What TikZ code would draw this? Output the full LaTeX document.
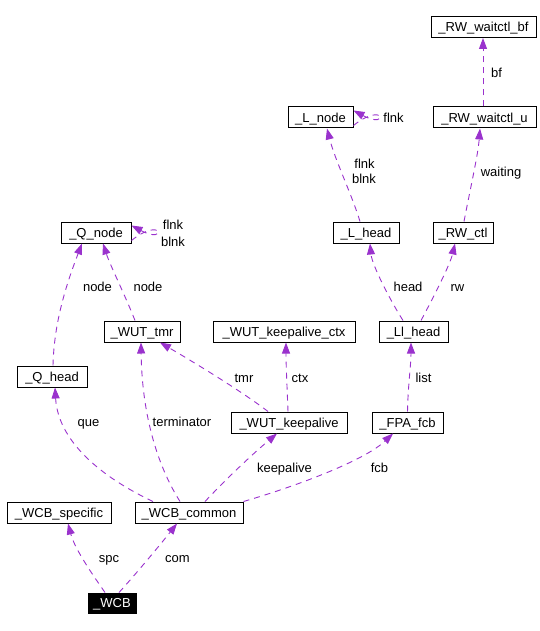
\documentclass[tikz,border=0pt]{standalone}
\usepackage{fontspec}
\setmainfont{Liberation Sans}
\usetikzlibrary{arrows.meta}
\definecolor{edgecol}{HTML}{9A32CD}
\tikzset{
  box/.style={draw=black, line width=1pt, rectangle, minimum height=21pt, inner sep=0pt,
    text height=9.3pt, text depth=0pt, font=\fontsize{13}{15}\selectfont},
  rootbox/.style={box, fill=black, text=white, minimum height=20pt},
  lbl/.style={inner sep=0pt, text height=9.3pt, text depth=0pt, font=\fontsize{13}{15}\selectfont},
  rel/.style={draw=edgecol, line width=0.9pt, dash pattern=on 6pt off 5pt,
    -{Triangle[length=11pt,width=8pt,fill=edgecol]}}
}
\begin{document}
\begin{tikzpicture}[x=1pt,y=-1pt]
\useasboundingbox (0,0) rectangle (540,631);
% nodes
\node[box, minimum width=105pt] (bf)     at (483.5,27)   {\_RW\_waitctl\_bf};
\node[box, minimum width=65pt]  (Lnode)  at (320.5,117.5){\_L\_node};
\node[box, minimum width=103pt] (RWu)    at (484.5,117.5){\_RW\_waitctl\_u};
\node[box, minimum width=66pt]  (Lhead)  at (366,232.5)  {\_L\_head};
\node[box, minimum width=60pt]  (RWctl)  at (463,232.5)  {\_RW\_ctl};
\node[box, minimum width=70pt]  (Qnode)  at (96,232.5)   {\_Q\_node};
\node[box, minimum width=76pt]  (tmr)    at (142,331.5)  {\_WUT\_tmr};
\node[box, minimum width=142pt] (kctx)   at (284,331.5)  {\_WUT\_keepalive\_ctx};
\node[box, minimum width=69pt]  (Llhead) at (413.5,331.5){\_Ll\_head};
\node[box, minimum width=70pt]  (Qhead)  at (52,376.5)   {\_Q\_head};
\node[box, minimum width=116pt] (keep)   at (289,422.5)  {\_WUT\_keepalive};
\node[box, minimum width=71pt]  (fcb)    at (407.5,422.5){\_FPA\_fcb};
\node[box, minimum width=104pt] (spec)   at (59,512.5)   {\_WCB\_specific};
\node[box, minimum width=108pt] (common) at (189,512.5)  {\_WCB\_common};
\node[rootbox, minimum width=48pt] (wcb) at (112,603)    {\_WCB};
% edges
\draw[rel] ([xshift=-7pt]wcb.north) .. controls (95,578) and (75,550) .. ([xshift=9pt]spec.south);
\draw[rel] ([xshift=7pt]wcb.north) .. controls (135,575) and (160,545) .. ([xshift=-12pt]common.south);
\draw[rel] ([xshift=-36pt]common.north) .. controls (99,476) and (58,440) .. ([xshift=3pt]Qhead.south);
\draw[rel] ([xshift=-9pt]common.north) .. controls (160,470) and (142,420) .. ([xshift=-1pt]tmr.south);
\draw[rel] ([xshift=16pt]common.north) .. controls (230,475) and (255,452) .. ([xshift=-12pt]keep.south);
\draw[rel] (common.north east) .. controls (300,485) and (365,460) .. ([xshift=-14.5pt]fcb.south);
\draw[rel] ([xshift=-21pt]keep.north) .. controls (240,390) and (190,360) .. ([xshift=18pt]tmr.south);
\draw[rel] ([xshift=-1pt]keep.north) .. controls (287,385) and (286,365) .. ([xshift=2pt]kctx.south);
\draw[rel] (fcb.north) .. controls (408,385) and (411,365) .. ([xshift=-2.5pt]Llhead.south);
\draw[rel] ([xshift=-10.5pt]Llhead.north) .. controls (390,300) and (372,265) .. ([xshift=4pt]Lhead.south);
\draw[rel] ([xshift=7.5pt]Llhead.north) .. controls (432,300) and (450,265) .. ([xshift=-8pt]RWctl.south);
\draw[rel] ([xshift=-6pt]Lhead.north) .. controls (352,195) and (335,160) .. ([xshift=6.5pt]Lnode.south);
\draw[rel] ([yshift=-8pt]Lnode.east) .. controls (385,100) and (390,130) .. ([yshift=7pt]Lnode.east);
\draw[rel] ([xshift=1pt]RWctl.north) .. controls (470,190) and (478,155) .. ([xshift=-4.5pt]RWu.south);
\draw[rel] ([xshift=-1.5pt]RWu.north) -- ([xshift=-0.5pt]bf.south);
\draw[rel] ([xshift=1pt]Qhead.north) .. controls (54,320) and (68,280) .. ([xshift=-14pt]Qnode.south);
\draw[rel] ([xshift=-7pt]tmr.north) .. controls (125,295) and (110,265) .. ([xshift=7pt]Qnode.south);
\draw[rel] ([yshift=-8pt]Qnode.east) .. controls (163,215) and (168,245) .. ([yshift=7pt]Qnode.east);
% labels
\node[lbl] (lspc)  at (109,558)   {spc};
\node[lbl] (lcom)  at (177.5,558) {com};
\node[lbl] (lque)  at (88.5,422)  {que};
\node[lbl] (lterm) at (182,422)   {terminator};
\node[lbl] (lkeep) at (284.5,468) {keepalive};
\node[lbl] (lfcb)  at (379.5,468) {fcb};
\node[lbl] (ltmr)  at (244,378)   {tmr};
\node[lbl] (lctx)  at (300,378)   {ctx};
\node[lbl] (llist) at (423.5,378) {list};
\node[lbl] (lhead) at (408,287)   {head};
\node[lbl] (lrw)   at (457.5,287) {rw};
\node[lbl] (lLf)   at (364.5,164) {flnk};
\node[lbl] (lLb)   at (364,179)   {blnk};
\node[lbl] (lLnf)  at (393.5,118) {flnk};
\node[lbl] (lwait) at (501,172)   {waiting};
\node[lbl] (lbf)   at (496.5,73)  {bf};
\node[lbl] (lnode1) at (97.5,287) {node};
\node[lbl] (lnode2) at (148,287)  {node};
\node[lbl] (lQf)   at (173,225)   {flnk};
\node[lbl] (lQb)   at (173,242)   {blnk};
\end{tikzpicture}
\end{document}
